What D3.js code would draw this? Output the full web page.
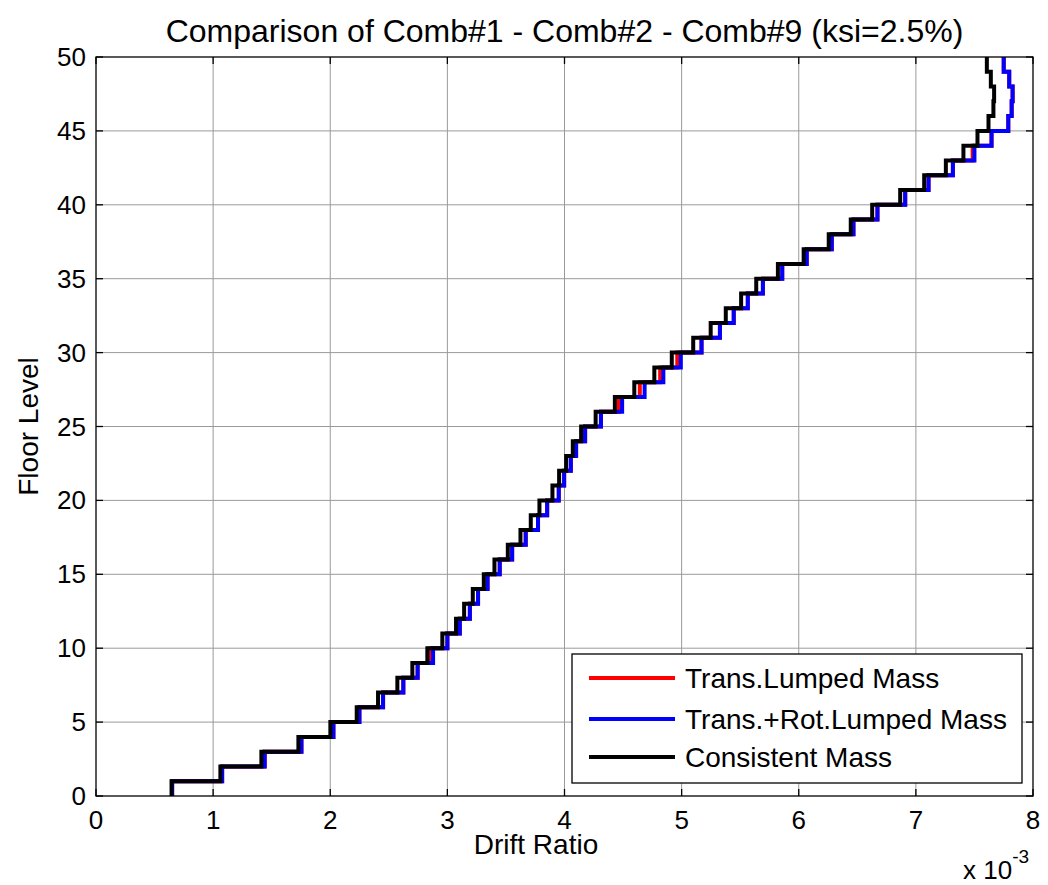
<!DOCTYPE html>
<html>
<head>
<meta charset="utf-8">
<script src="https://cdn.jsdelivr.net/npm/d3@7"></script>
<style>
  html, body { margin: 0; padding: 0; background: #fff; }
  svg { display: block; font-family: Arial, "Liberation Sans", sans-serif; }
</style>
</head>
<body>
<svg id="chart" width="1048" height="885"></svg>
<script>
// Storey drift ratio (x 1e-3) for floors 1..50
const floors = d3.range(1, 51);

const transLumped = [
  0.650, 1.077, 1.440, 1.754, 2.027, 2.249, 2.451, 2.624, 2.746, 2.855,
  3.000, 3.106, 3.192, 3.262, 3.343, 3.447, 3.553, 3.669, 3.774, 3.852,
  3.951, 3.997, 4.054, 4.099, 4.176, 4.311, 4.465, 4.643, 4.817, 4.963,
  5.170, 5.327, 5.445, 5.565, 5.694, 5.859, 6.068, 6.282, 6.467, 6.672,
  6.909, 7.108, 7.316, 7.485, 7.646, 7.789, 7.818, 7.826, 7.797, 7.750
];

const transRotLumped = [
  0.650, 1.077, 1.440, 1.754, 2.027, 2.249, 2.451, 2.624, 2.746, 2.878,
  3.000, 3.106, 3.192, 3.262, 3.343, 3.447, 3.553, 3.669, 3.774, 3.852,
  3.951, 3.997, 4.054, 4.099, 4.176, 4.311, 4.492, 4.684, 4.844, 4.993,
  5.170, 5.327, 5.445, 5.565, 5.694, 5.859, 6.068, 6.282, 6.467, 6.672,
  6.909, 7.108, 7.316, 7.500, 7.646, 7.789, 7.818, 7.826, 7.797, 7.750
];

const consistent = [
  0.645, 1.062, 1.412, 1.728, 2.001, 2.226, 2.408, 2.573, 2.701, 2.829,
  2.957, 3.074, 3.143, 3.217, 3.311, 3.402, 3.516, 3.624, 3.712, 3.786,
  3.897, 3.954, 4.014, 4.071, 4.142, 4.266, 4.430, 4.596, 4.767, 4.916,
  5.099, 5.248, 5.377, 5.508, 5.637, 5.822, 6.042, 6.256, 6.444, 6.627,
  6.866, 7.071, 7.256, 7.406, 7.526, 7.620, 7.662, 7.668, 7.640, 7.606
];

const seriesNames = ["Trans.Lumped Mass", "Trans.+Rot.Lumped Mass", "Consistent Mass"];
const seriesColors = ["#ff0000", "#0000ff", "#000000"];
const xTicks = [0, 1, 2, 3, 4, 5, 6, 7, 8];
const yTicks = [0, 5, 10, 15, 20, 25, 30, 35, 40, 45, 50];

const titleText = "Comparison of Comb#1 - Comb#2 - Comb#9 (ksi=2.5%)";
const xLabelText = "Drift Ratio";
const yLabelText = "Floor Level";

const svg = d3.select("#chart");
const plotL = 96, plotR = 1033, plotT = 57, plotB = 796;

const x = d3.scaleLinear().domain([0, 8]).range([plotL, plotR]);
const y = d3.scaleLinear().domain([0, 50]).range([plotB, plotT]);

// grid
const grid = svg.append("g").attr("stroke", "#9a9a9a").attr("stroke-width", 1);
xTicks.slice(1, -1).forEach(t => {
  grid.append("line").attr("x1", x(t)).attr("x2", x(t)).attr("y1", plotT).attr("y2", plotB);
});
yTicks.slice(1, -1).forEach(t => {
  grid.append("line").attr("x1", plotL).attr("x2", plotR).attr("y1", y(t)).attr("y2", y(t));
});

// stair profiles: vertical run for each storey, horizontal step at each floor
const stair = d3.line()
  .x(d => x(d[0]))
  .y(d => y(d[1]))
  .curve(d3.curveStepAfter);

const allSeries = [transLumped, transRotLumped, consistent];
allSeries.forEach((vals, i) => {
  const pts = [[vals[0], 0]].concat(floors.map((f, k) => [vals[k], f]));
  svg.append("path")
    .attr("d", stair(pts))
    .attr("fill", "none")
    .attr("stroke", seriesColors[i])
    .attr("stroke-width", 4)
    .attr("stroke-linejoin", "miter");
});

// axes box
svg.append("rect")
  .attr("x", plotL).attr("y", plotT)
  .attr("width", plotR - plotL).attr("height", plotB - plotT)
  .attr("fill", "none").attr("stroke", "#000").attr("stroke-width", 1.3);

// inward ticks on all four sides
const tickLen = 7;
const ticks = svg.append("g").attr("stroke", "#000").attr("stroke-width", 1.3);
xTicks.forEach(t => {
  ticks.append("line").attr("x1", x(t)).attr("x2", x(t)).attr("y1", plotB).attr("y2", plotB - tickLen);
  ticks.append("line").attr("x1", x(t)).attr("x2", x(t)).attr("y1", plotT).attr("y2", plotT + tickLen);
});
yTicks.forEach(t => {
  ticks.append("line").attr("x1", plotL).attr("x2", plotL + tickLen).attr("y1", y(t)).attr("y2", y(t));
  ticks.append("line").attr("x1", plotR).attr("x2", plotR - tickLen).attr("y1", y(t)).attr("y2", y(t));
});

// tick labels
const fs = 26;
svg.append("g").selectAll("text").data(xTicks).join("text")
  .attr("x", d => x(d)).attr("y", plotB + 33)
  .attr("text-anchor", "middle").attr("font-size", fs).text(d => d);
svg.append("g").selectAll("text").data(yTicks).join("text")
  .attr("x", plotL - 10).attr("y", d => y(d) + 9)
  .attr("text-anchor", "end").attr("font-size", fs).text(d => d);

// exponent label
const expo = svg.append("text").attr("x", 963).attr("y", 879).attr("font-size", fs);
expo.append("tspan").text("x 10");
expo.append("tspan").attr("dy", -16).attr("font-size", 19).text("-3");

// title and axis labels
svg.append("text").attr("x", (plotL + plotR) / 2).attr("y", 42)
  .attr("text-anchor", "middle").attr("font-size", 32).text(titleText);
svg.append("text").attr("x", 536).attr("y", 854)
  .attr("text-anchor", "middle").attr("font-size", 28).text(xLabelText);
svg.append("text")
  .attr("transform", `translate(38, ${(plotT + plotB) / 2}) rotate(-90)`)
  .attr("text-anchor", "middle").attr("font-size", 28).text(yLabelText);

// legend
const lg = svg.append("g");
lg.append("rect").attr("x", 572).attr("y", 654).attr("width", 450).attr("height", 129)
  .attr("fill", "#fff").attr("stroke", "#000").attr("stroke-width", 1.3);
const rowY = [678, 719, 757];
seriesNames.forEach((name, i) => {
  lg.append("line").attr("x1", 589).attr("x2", 675).attr("y1", rowY[i]).attr("y2", rowY[i])
    .attr("stroke", seriesColors[i]).attr("stroke-width", 4);
  lg.append("text").attr("x", 685).attr("y", rowY[i] + 10).attr("font-size", 28).text(name);
});
</script>
</body>
</html>
